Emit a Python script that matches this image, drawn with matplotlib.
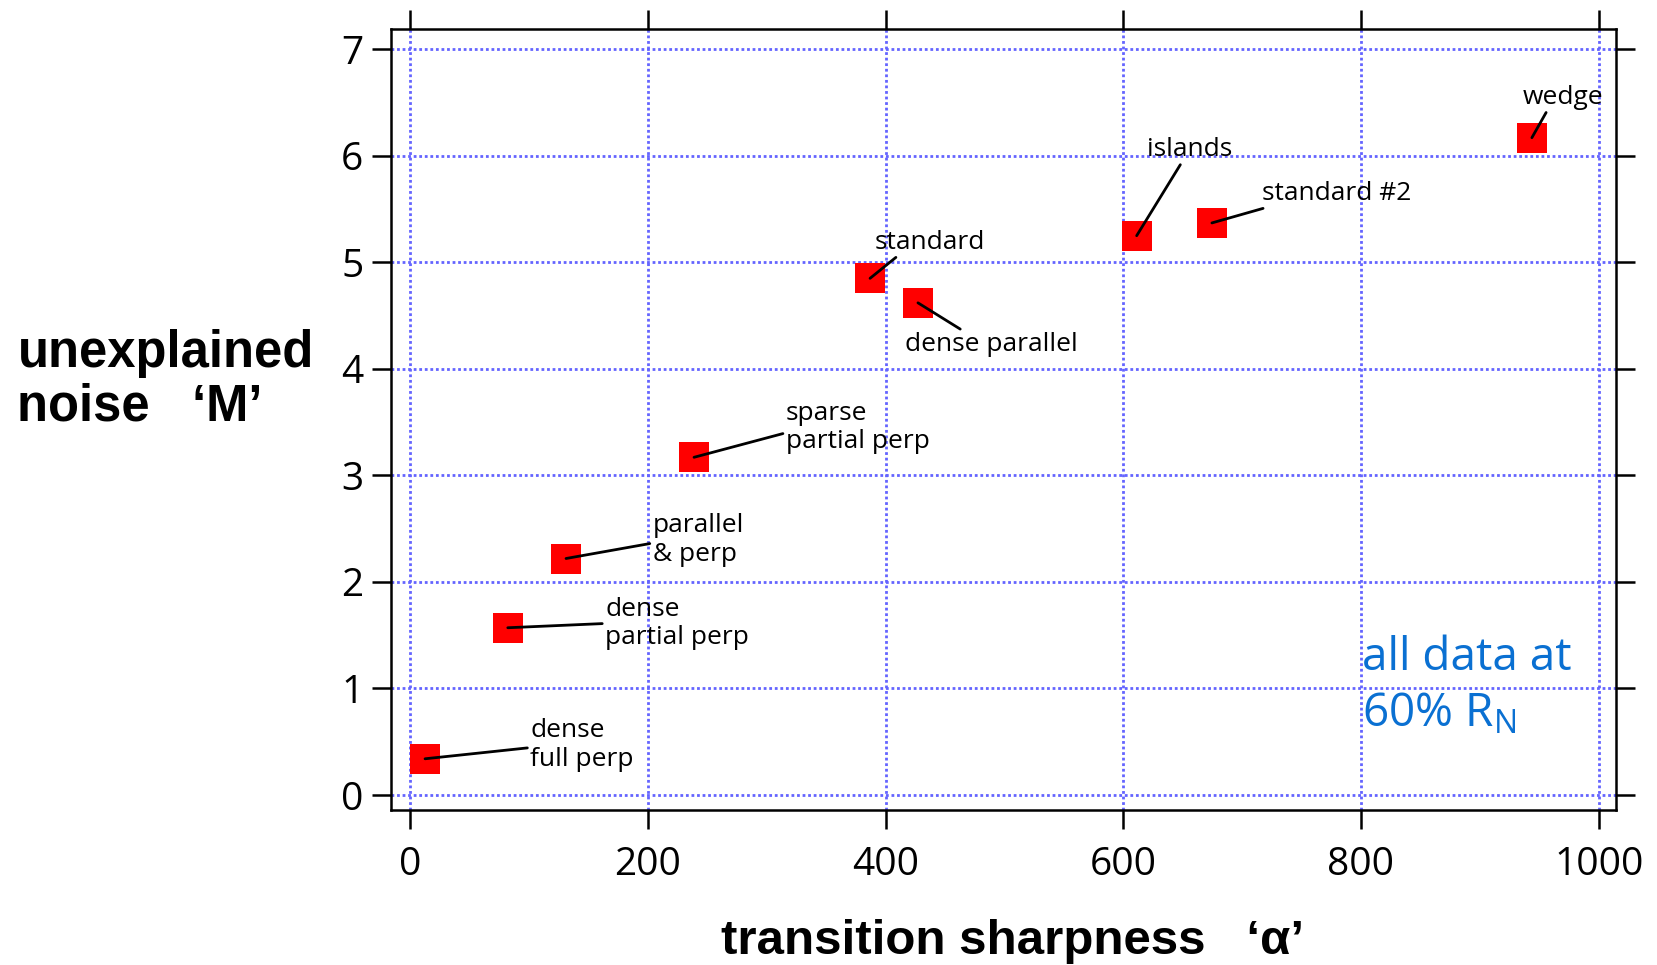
import matplotlib
matplotlib.use("Agg")
import matplotlib.pyplot as plt

# values
names = ["dense\nfull perp", "dense\npartial perp", "parallel\n& perp",
         "sparse\npartial perp", "standard", "dense parallel",
         "islands", "standard #2", "wedge"]
alpha = [12.6, 82.2, 131.2, 238.9, 387.0, 427.3, 611.3, 674.6, 943.8]
noise = [0.34, 1.57, 2.22, 3.17, 4.85, 4.62, 5.25, 5.37, 6.17]

# where each label sits (data coords) and where its leader line attaches
label_xy = [(101, 0.47), (164, 1.61), (204, 2.39), (316, 3.45), (391, 5.19),
            (416, 4.23), (620, 6.06), (717, 5.65), (936, 6.55)]
label_rel = [(0, 0.45), (0, 0.5), (0, 0.45), (0, 0.4), (0.25, 0.1),
             (0.36, 0.95), (0.42, 0.05), (0.1, 0.05), (0.32, 0.05)]

xticks = [0, 200, 400, 600, 800, 1000]
yticks = [0, 1, 2, 3, 4, 5, 6, 7]

plt.rcParams['font.family'] = ['Open Sans', 'DejaVu Sans']

fig = plt.figure(figsize=(16.57, 9.65), dpi=100)
ax = fig.add_axes([0.236, 0.1606, 0.7392, 0.8093])

ax.plot(alpha, noise, 's', color='red', markersize=21.6, markeredgewidth=0, zorder=3)

for name, x, y, (tx, ty), rel in zip(names, alpha, noise, label_xy, label_rel):
    ax.annotate(name, xy=(x, y), xytext=(tx, ty), textcoords='data',
                ha='left', va='center', fontsize=19, color='black', zorder=4,
                linespacing=1.2,
                arrowprops=dict(arrowstyle='-', color='black', lw=2,
                                shrinkA=0, shrinkB=0, relpos=(rel[0], rel[1])))

ax.text(801, 1.50, 'all data at\n60% R$_{\\mathregular{N}}$', ha='left', va='top',
        fontsize=33, color='#0a70d2', linespacing=1.3)

ax.set_xlim(-16, 1014.5)
ax.set_ylim(-0.141, 7.19)
ax.set_xticks(xticks)
ax.set_yticks(yticks)
ax.tick_params(axis='both', which='both', direction='out', length=14, width=1.8,
               labelsize=28, colors='black')
ax.tick_params(axis='x', top=True, bottom=True, pad=12)
ax.tick_params(axis='y', left=True, right=True, pad=6)

ax.grid(True, color='#6464ff', linestyle=(0, (1, 1)), linewidth=2, zorder=1)
ax.set_axisbelow(True)
for s in ax.spines.values():
    s.set_linewidth(1.8)

fig.text(0.0105, 0.606, "unexplained\nnoise   \u2018M\u2019", ha='left', va='center',
         fontsize=36.5, fontweight='bold', family='Liberation Sans', linespacing=1.12)
fig.text(0.611, 0.0114, "transition sharpness   \u2018\u03b1\u2019", ha='center', va='baseline',
         fontsize=35.5, fontweight='bold', family='Liberation Sans')

fig.savefig("out.png", dpi=100)
